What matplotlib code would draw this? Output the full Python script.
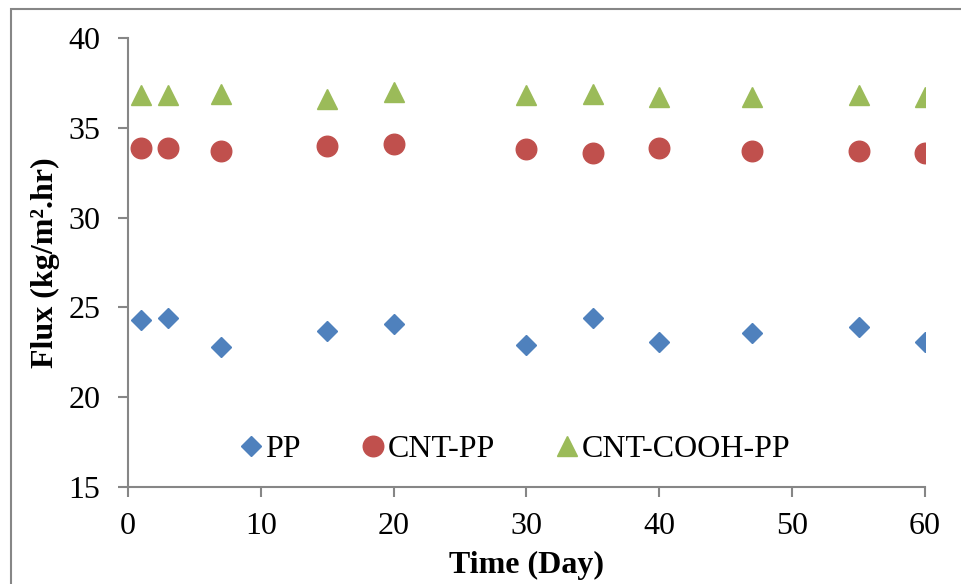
import matplotlib
matplotlib.use("Agg")
import matplotlib.pyplot as plt
from matplotlib.patches import Rectangle

plt.rcParams['font.family'] = ['Liberation Serif', 'DejaVu Serif']

# Flux measurements over time
dias = [1, 3, 7, 15, 20, 30, 35, 40, 47, 55, 60]
flux_pp = [24.3, 24.4, 22.8, 23.7, 24.1, 22.9, 24.4, 23.1, 23.6, 23.9, 23.1]
flux_cnt = [33.9, 33.9, 33.7, 34.0, 34.1, 33.8, 33.6, 33.9, 33.7, 33.7, 33.6]
flux_cooh = [36.8, 36.8, 36.9, 36.6, 37.0, 36.8, 36.9, 36.7, 36.7, 36.8, 36.7]

gris = '#868686'

fig = plt.figure(figsize=(9.61, 5.84), dpi=100)
ax = fig.add_axes([0.1332, 0.1661, 0.8293, 0.7688])

ax.plot(dias, flux_pp, linestyle='none', marker='D', ms=10.5, color='#4F81BD', label='PP')
ax.plot(dias, flux_cnt, linestyle='none', marker='o', ms=14.8, color='#C0504D', label='CNT-PP')
ax.plot(dias, flux_cooh, linestyle='none', marker='^', ms=14.5, color='#9BBB59', label='CNT-COOH-PP')

ax.set_xlim(0, 60)
ax.set_ylim(15, 40)
ax.set_xticks(range(0, 61, 10))
ax.set_yticks(range(15, 41, 5))

for lado in ['top', 'right']:
    ax.spines[lado].set_visible(False)
for lado in ['left', 'bottom']:
    ax.spines[lado].set_color(gris)
    ax.spines[lado].set_linewidth(1.5)
ax.tick_params(direction='out', length=7, width=1.5, color=gris, labelsize=23)
ax.tick_params(axis='x', pad=11)
ax.tick_params(axis='y', pad=13)

ax.set_xlabel('Time (Day)', fontsize=23, fontweight='bold', labelpad=7)
ax.set_ylabel('Flux (kg/m².hr)', fontsize=23, fontweight='bold', labelpad=6)

ax.legend(loc='center', bbox_to_anchor=(0.4856, 0.0846), ncol=3, frameon=False,
          fontsize=23, handletextpad=0.12, columnspacing=1.9, handlelength=0.7,
          borderpad=0.2)

# marco exterior del gráfico
fig.patches.append(Rectangle((11 / 961, -0.1), 1.2, 1 - 9 / 584 + 0.1,
                             transform=fig.transFigure, fill=False,
                             edgecolor=gris, linewidth=1.5))

fig.savefig('out.png', dpi=100)
